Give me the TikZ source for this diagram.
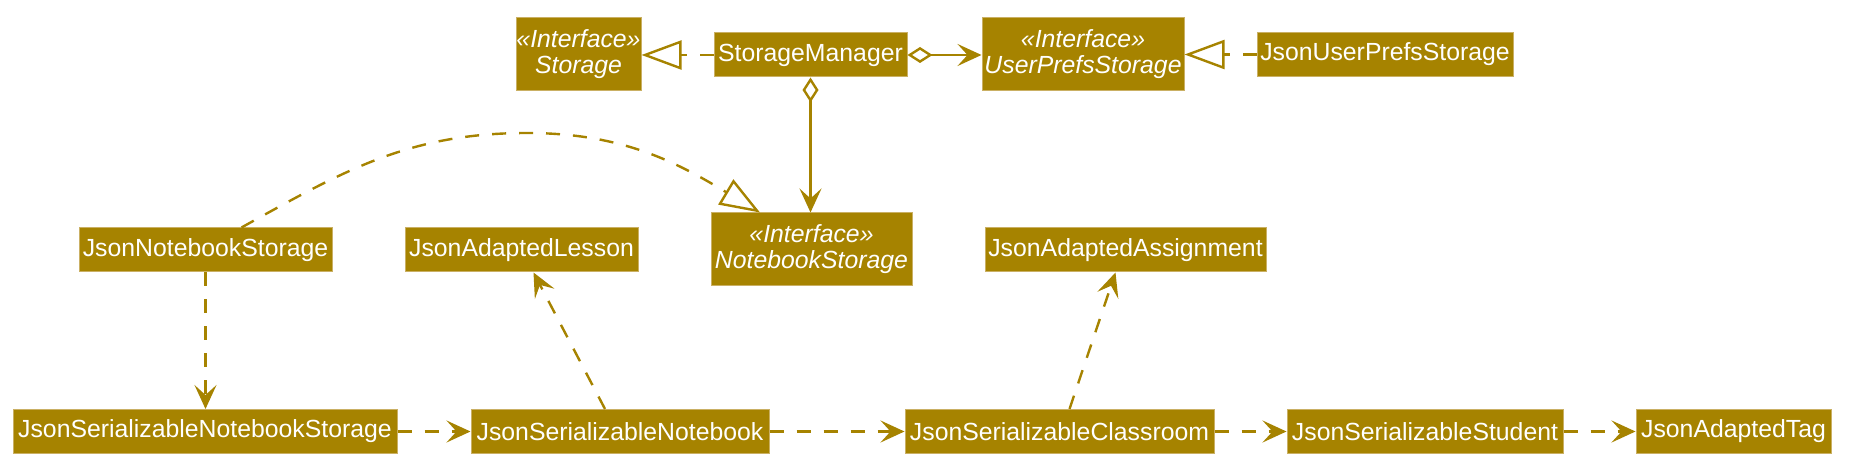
\documentclass[tikz,border=0pt]{standalone}
\usepackage{fontspec}
\setmainfont{Liberation Sans}
\usetikzlibrary{arrows.meta}
\definecolor{umlfill}{RGB}{166,131,0}
\definecolor{umlline}{RGB}{202,176,100}
\tikzset{
  cls/.style={fill=umlfill,draw=umlline,line width=0.5pt,text=white,inner sep=0pt,
    minimum height=22pt,align=center,font=\fontsize{12.4}{13}\selectfont},
  iface/.style={cls,minimum height=36.5pt,font=\itshape\fontsize{12.4}{13}\selectfont},
  dep/.style={umlfill,line width=1.2pt,dash pattern=on 7pt off 6.5pt,
    -{Stealth[length=12pt,width=11pt,inset=5pt]}},
  real/.style={umlfill,line width=1.2pt,dash pattern=on 7pt off 6.5pt,
    -{Triangle[open,length=20pt,width=14.5pt,fill=white]}},
  aggr/.style={umlfill,line width=1.2pt,
    {Diamond[open,length=12.5pt,width=8pt,fill=white]}-{Stealth[length=12pt,width=11pt,inset=5pt]}},
}
\begin{document}
\begin{tikzpicture}[x=0.5pt,y=0.5pt]
\useasboundingbox(0,0)rectangle(1852,-475);
% top row
\node[iface,minimum width=62.5pt] (storage) at (578.5,-54) {«Interface»\\Storage};
\node[cls,minimum width=96.5pt] (manager) at (810.5,-55) {StorageManager};
\node[iface,minimum width=101pt] (prefs) at (1083,-54) {«Interface»\\UserPrefsStorage};
\node[cls,minimum width=128pt] (jsonprefs) at (1385,-54.5) {JsonUserPrefsStorage};
% middle row
\node[cls,minimum width=126.5pt] (jsonnb) at (205.5,-250) {JsonNotebookStorage};
\node[cls,minimum width=116.5pt] (lesson) at (521.5,-250) {JsonAdaptedLesson};
\node[iface,minimum width=100.5pt] (nbstorage) at (811.5,-249.5) {«Interface»\\NotebookStorage};
\node[cls,minimum width=140.5pt] (assignment) at (1125.5,-250) {JsonAdaptedAssignment};
% bottom row
\node[cls,minimum width=192pt] (sernbstorage) at (205,-431.5) {JsonSerializableNotebookStorage};
\node[cls,minimum width=149pt] (sernb) at (620,-431.5) {JsonSerializableNotebook};
\node[cls,minimum width=154.5pt] (serclass) at (1059.5,-431.5) {JsonSerializableClassroom};
\node[cls,minimum width=138pt] (serstudent) at (1425,-431.5) {JsonSerializableStudent};
\node[cls,minimum width=97.5pt] (tag) at (1733.5,-431.5) {JsonAdaptedTag};
\coordinate (top) at (527,-133);
% connectors
\draw[real] (manager.west)--(manager.west-|storage.east);
\draw[real] (jsonprefs.west)--(jsonprefs.west-|prefs.east);
\draw[aggr] (manager.east)--(manager.east-|prefs.west);
\draw[aggr] (manager.south)--(manager.south|-nbstorage.north);
\draw[real] ([xshift=18pt]jsonnb.north) to[out=29,in=180] (top)
  to[out=0,in=149] ([xshift=24.75pt]nbstorage.north west);
\draw[dep] (jsonnb.south)--(jsonnb.south|-sernbstorage.north);
\draw[dep] ([xshift=-7.5pt]sernb.north)--([xshift=6pt]lesson.south);
\draw[dep] ([xshift=5pt]serclass.north)--([xshift=-5pt]assignment.south);
\draw[dep] (sernbstorage.east)--(sernb.west);
\draw[dep] (sernb.east)--(serclass.west);
\draw[dep] (serclass.east)--(serstudent.west);
\draw[dep] (serstudent.east)--(tag.west);
\end{tikzpicture}
\end{document}
